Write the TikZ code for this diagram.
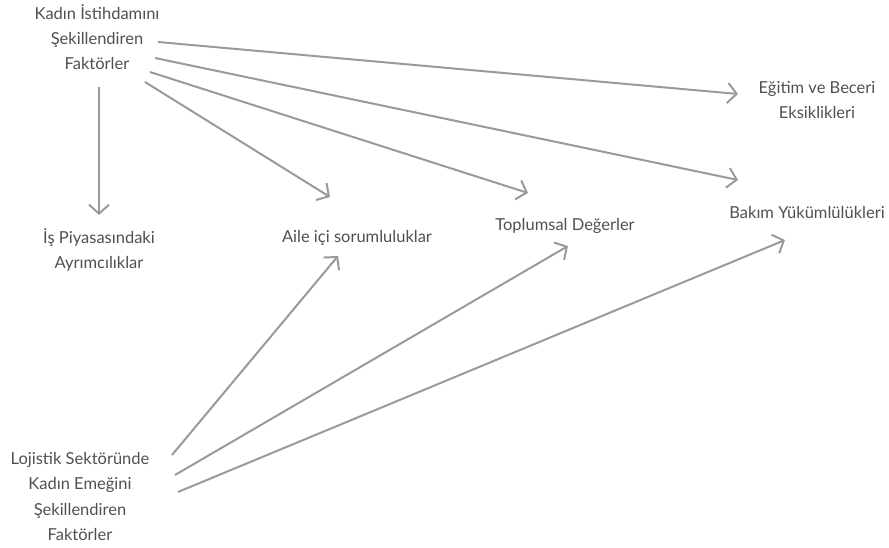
\documentclass[tikz,border=0pt]{standalone}
\usepackage{fontspec}
\setmainfont{Lato}
\usetikzlibrary{arrows.meta}
\definecolor{txt}{HTML}{505050}
\definecolor{arr}{HTML}{9A9A9A}
\begin{document}
\begin{tikzpicture}[x=1pt,y=-1pt,
  lbl/.style={text=txt,align=center,inner sep=0pt,font=\fontsize{16.5}{25.5}\selectfont},
  lbltight/.style={lbl,font=\fontsize{16.5}{25}\selectfont},
  conn/.style={draw=arr,line width=2pt,-{Straight Barb[length=9pt,width=20pt,line width=2pt]}}]
\useasboundingbox (0,0) rectangle (889,548);
\node[lbltight] (top) at (97,37.5) {Kadın İstihdamını\\Şekillendiren\\Faktörler};
\node[lbl] (is) at (99,250) {İş Piyasasındaki\\Ayrımcılıklar};
\node[lbl] (aile) at (357,238) {Aile içi sorumluluklar};
\node[lbl] (topl) at (565,226) {Toplumsal Değerler};
\node[lbl] (bakim) at (807,212) {Bakım Yükümlülükleri};
\node[lbltight] (egitim) at (817,100) {Eğitim ve Beceri\\Eksiklikleri};
\node[lbl] (loj) at (80,496.5) {Lojistik Sektöründe\\Kadın Emeğini\\Şekillendiren\\Faktörler};
% connector ends
\coordinate (t1) at (99,87);   \coordinate (e1) at (99,215);
\coordinate (t2) at (158,42);  \coordinate (e2) at (738,94);
\coordinate (t3) at (155,58);  \coordinate (e3) at (738,180);
\coordinate (t4) at (150,72);  \coordinate (e4) at (528,193);
\coordinate (t5) at (145,82);  \coordinate (e5) at (330,197);
\coordinate (l1) at (172,455); \coordinate (f1) at (338,256);
\coordinate (l2) at (175,475); \coordinate (f2) at (568,246);
\coordinate (l3) at (178,492); \coordinate (f3) at (785,240);
\draw[conn] (t1) -- (e1);
\draw[conn] (t2) -- (e2);
\draw[conn] (t3) -- (e3);
\draw[conn] (t4) -- (e4);
\draw[conn] (t5) -- (e5);
\draw[conn] (l1) -- (f1);
\draw[conn] (l2) -- (f2);
\draw[conn] (l3) -- (f3);
\end{tikzpicture}
\end{document}
